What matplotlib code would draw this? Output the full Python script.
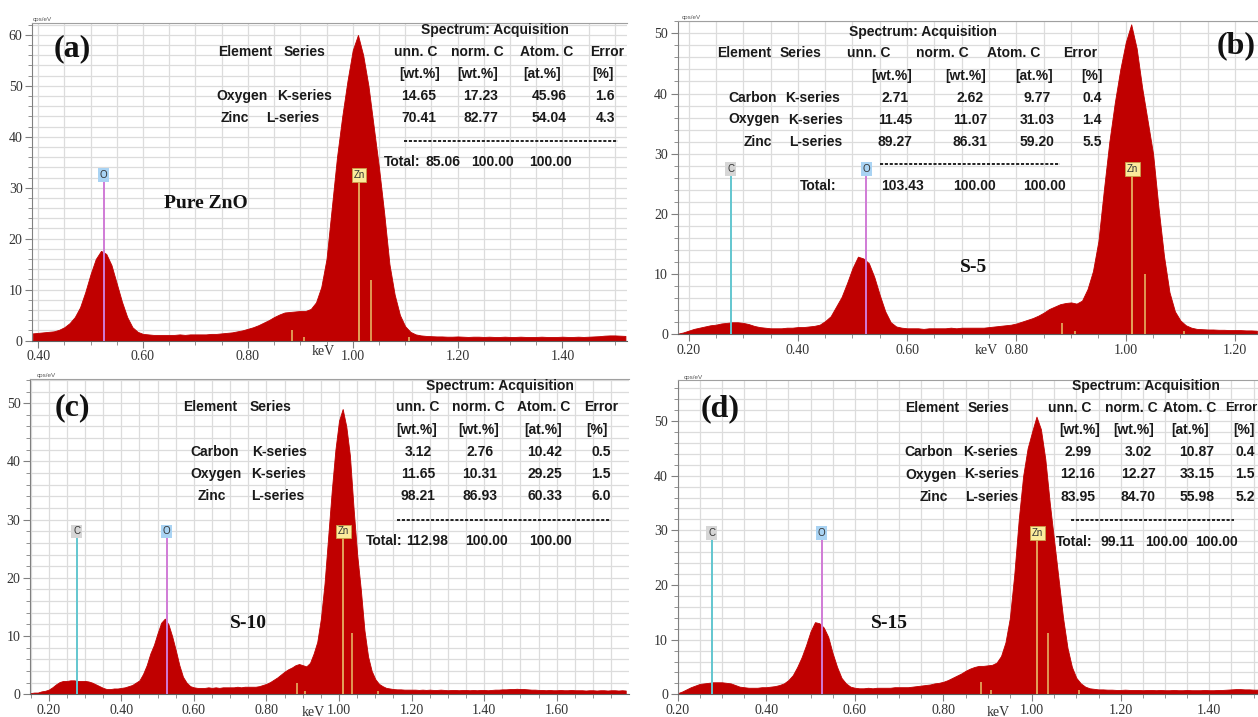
import numpy as np
import matplotlib
matplotlib.use('Agg')
import matplotlib.pyplot as plt
from matplotlib.ticker import MultipleLocator, FormatStrFormatter
from matplotlib.lines import Line2D

# spectra, counts in cps/eV on 0.01 keV bins
a_start = 0.39
a_counts = [1.4, 1.5, 1.6, 1.7, 1.8, 2.1, 2.6, 3.4, 4.6, 6.5,
            9.5, 13.0, 16.0, 17.6, 17.0, 14.8, 11.2, 7.6, 4.6, 2.6,
            1.7, 1.3, 1.2, 1.1, 1.1, 1.1, 1.1, 1.1, 1.2, 1.1,
            1.2, 1.2, 1.2, 1.2, 1.3, 1.3, 1.4, 1.5, 1.6, 1.8,
            2.0, 2.3, 2.6, 3.0, 3.5, 4.0, 4.6, 5.1, 5.5, 5.6,
            5.7, 5.8, 5.8, 6.2, 7.5, 10.5, 16.0, 26.0, 36.0, 44.0,
            51.0, 57.0, 60.0, 56.0, 50.0, 42.0, 34.0, 25.0, 15.0, 9.0,
            5.0, 2.8, 1.7, 1.2, 1.0, 0.9, 0.85, 0.8,
            0.8, 0.75, 0.75, 0.8, 0.75, 0.7, 0.75, 0.75, 0.7, 0.75,
            0.7, 0.7, 0.75, 0.7, 0.7, 0.75, 0.7, 0.7, 0.7, 0.75,
            0.7, 0.7, 0.7, 0.75, 0.7, 0.7, 0.75, 0.7, 0.75,
            0.8, 0.85, 0.95, 1.0, 1.0, 0.95, 0.9]

b_start = 0.18
b_counts = [0.1, 0.3, 0.6, 0.9, 1.1, 1.3, 1.5, 1.6, 1.8, 1.9,
            2.0, 2.0, 1.9, 1.7, 1.4, 1.2, 1.1, 1.0, 1.0, 1.0,
            1.1, 1.1, 1.2, 1.2, 1.3, 1.4, 1.6, 2.2, 3.0, 4.6,
            6.2, 8.5, 11.0, 12.9, 12.6, 11.8, 9.5, 6.5, 3.8, 2.0,
            1.3, 1.1, 1.0, 1.0, 1.0, 0.9, 1.0, 1.0, 1.0, 1.0,
            1.1, 1.0, 1.1, 1.1, 1.1, 1.1, 1.1, 1.2, 1.3, 1.4,
            1.5, 1.6, 1.8, 2.1, 2.4, 2.7, 3.1, 3.6, 4.2, 4.6,
            5.0, 5.2, 5.3, 5.1, 5.6, 7.5, 10.5, 15.5, 24.0, 32.0,
            38.5, 44.0, 48.5, 51.5, 47.5, 41.0, 35.5, 30.0, 21.0, 13.0,
            7.0, 3.8, 2.3, 1.5, 1.1, 0.9, 0.85, 0.8, 0.8, 0.75,
            0.75, 0.7, 0.7, 0.7, 0.65, 0.65, 0.6]

c_start = 0.15
c_counts = [0.2, 0.3, 0.3, 0.5, 0.6, 0.8, 1.2, 1.7, 2.1, 2.3,
            2.3, 2.4, 2.4, 2.3, 2.3, 2.3, 2.2, 2.0, 1.7, 1.4,
            1.1, 0.9, 0.9, 1.0, 1.0, 1.1, 1.2, 1.4, 1.6, 2.0,
            2.4, 3.5, 5.0, 7.0, 8.5, 10.5, 12.3, 13.0, 12.0, 10.0,
            7.6, 5.0, 3.0, 2.0, 1.4, 1.2, 1.1, 1.1, 1.1, 1.2,
            1.1, 1.2, 1.1, 1.2, 1.2, 1.2, 1.2, 1.3, 1.2, 1.3,
            1.3, 1.3, 1.3, 1.4, 1.6, 1.8, 2.1, 2.5, 2.9, 3.4,
            3.9, 4.3, 4.6, 5.0, 5.2, 5.0, 4.8, 5.4, 7.0, 9.0,
            13.0, 19.0, 27.0, 35.0, 42.0, 47.0, 49.0, 46.0, 41.0, 32.0,
            24.0, 18.0, 11.0, 6.5, 4.0, 2.6, 1.8, 1.4, 1.1, 1.0, 0.9,
            0.85, 0.85, 0.8, 0.8, 0.8, 0.8, 0.75, 0.8, 0.75, 0.8,
            0.75, 0.75, 0.8, 0.75, 0.7, 0.75, 0.75, 0.7, 0.75, 0.75,
            0.7, 0.75, 0.7, 0.75, 0.75, 0.7, 0.75, 0.8, 0.8, 0.85,
            0.85, 0.9, 0.9, 0.95, 0.9, 0.9, 0.85, 0.8, 0.8, 0.75,
            0.75, 0.7, 0.75, 0.7, 0.7, 0.75, 0.7, 0.7, 0.75, 0.7,
            0.7, 0.7, 0.65, 0.7, 0.7, 0.65, 0.7, 0.7, 0.65, 0.7,
            0.7, 0.65, 0.7, 0.65]

d_start = 0.20
d_counts = [0.2, 0.5, 0.9, 1.3, 1.6, 1.9, 2.0, 2.1, 2.2, 2.2,
            2.2, 2.1, 2.0, 1.7, 1.4, 1.3, 1.2, 1.2, 1.2, 1.3,
            1.3, 1.4, 1.5, 1.7, 2.0, 2.6, 3.5, 5.0, 6.8, 9.0,
            11.5, 13.2, 13.0, 12.2, 10.5, 7.5, 5.0, 3.0, 2.0, 1.4,
            1.2, 1.1, 1.1, 1.2, 1.1, 1.2, 1.2, 1.2, 1.2, 1.3,
            1.3, 1.3, 1.3, 1.4, 1.5, 1.6, 1.7, 1.8, 2.0, 2.1,
            2.3, 2.6, 3.0, 3.4, 3.8, 4.3, 4.7, 5.0, 5.2, 5.2,
            5.3, 5.4, 5.8, 7.0, 9.5, 14.0, 22.0, 32.0, 40.0, 45.0,
            48.0, 50.8, 48.5, 43.0, 35.0, 28.0, 21.0, 14.0, 8.5, 5.0,
            3.0, 2.0, 1.4, 1.1, 1.0, 0.9,
            0.9, 0.85, 0.85, 0.8, 0.8, 0.85, 0.8, 0.8, 0.8, 0.75,
            0.8, 0.8, 0.75, 0.8, 0.75, 0.75, 0.8, 0.75, 0.75, 0.8,
            0.75, 0.75, 0.75, 0.8, 0.75, 0.75, 0.8, 0.8, 0.85,
            0.9, 0.95, 0.95, 0.9, 0.9, 0.85, 0.85]

# element markers (keV) and Zn L satellite lines (keV, height)
line_keV = {'C': 0.277, 'O': 0.525, 'Zn': 1.012}
zn_minor_keV = [0.884, 0.907, 1.035, 1.107]
a_zn_minor = [2.1, 0.65, 11.9, 0.7]
b_zn_minor = [1.9, 0.55, 10.1, 0.55]
c_zn_minor = [1.9, 0.6, 10.5, 0.6]
d_zn_minor = [2.2, 0.7, 11.3, 0.8]

W, H = 1258, 717
RED = '#c00000'
SANS = ['Liberation Sans', 'DejaVu Sans']
SERIF = ['Liberation Serif', 'DejaVu Serif']
line_col = {'C': '#62c6cf', 'O': '#d07bd6', 'Zn': '#e3a35a'}
box_col = {'C': '#d6d6d6', 'O': '#a9d3f3', 'Zn': '#fbeb9c'}

fig = plt.figure(figsize=(W / 100, H / 100), dpi=100)


def put(x, y, s, size=10, weight='bold', family=SANS, ha='center', color='#1a1a1a'):
    fig.text(x / W, 1 - y / H, s, ha=ha, va='center', fontsize=size,
             fontweight=weight, family=family, color=color)


def spectrum(box, start, counts, xlim, ylim, elems, label_y, zn_minor):
    l, t, r, b = box
    ax = fig.add_axes([l / W, 1 - b / H, (r - l) / W, (b - t) / H])
    e = start + 0.01 * np.arange(len(counts))
    ax.fill_between(e, counts, color=RED, lw=0.6, edgecolor=RED, zorder=2)
    ax.set_xlim(xlim)
    ax.set_ylim(ylim)
    ax.xaxis.set_major_locator(MultipleLocator(0.2))
    ax.xaxis.set_minor_locator(MultipleLocator(0.05))
    ax.yaxis.set_major_locator(MultipleLocator(10))
    ax.yaxis.set_minor_locator(MultipleLocator(2))
    ax.xaxis.set_major_formatter(FormatStrFormatter('%.2f'))
    ax.grid(which='both', color='#dcdcdc', lw=0.9, zorder=0)
    ax.set_axisbelow(True)
    ax.tick_params(which='both', direction='out', color='#808080', labelcolor='#333333',
                   labelsize=10, pad=2)
    ax.tick_params(which='major', length=5)
    ax.tick_params(which='minor', length=3)
    for lab in ax.get_xticklabels() + ax.get_yticklabels():
        lab.set_family(SERIF)
    ax.spines['right'].set_visible(False)
    ax.spines['top'].set_color('#a0a0a0')
    ax.spines['left'].set_color('#808080')
    ax.spines['bottom'].set_color('#606060')
    for en, h in zip(zn_minor_keV, zn_minor):
        ax.vlines(en, 0, h, color=line_col['Zn'], lw=1.3, zorder=3)
    for el in elems:
        en = line_keV[el]
        ax.vlines(en, 0, label_y, color=line_col[el], lw=1.4, zorder=3)
        ax.text(en, label_y, el, ha='center', va='center', fontsize=7, family=SANS,
                color='#333333', zorder=4,
                bbox=dict(boxstyle='square,pad=0.18', fc=box_col[el],
                          ec='#c9a04a' if el == 'Zn' else 'none', lw=0.6))
    return ax


def dashes(x0, x1, y):
    fig.add_artist(Line2D([x0 / W, x1 / W], [1 - y / H, 1 - y / H], color='#222222',
                          lw=1.4, dashes=(1.6, 0.9)))


spectrum((32.3, 22.7, 627, 340.5), a_start, a_counts, (0.389, 1.523), (0, 62.4),
         ['O', 'Zn'], 32.5, a_zn_minor)
spectrum((677.6, 20.7, 1258, 334.3), b_start, b_counts, (0.180, 1.242), (0, 52.1),
         ['C', 'O', 'Zn'], 27.5, b_zn_minor)
spectrum((30.2, 379.3, 629, 694.3), c_start, c_counts, (0.149, 1.799), (0, 54.1),
         ['C', 'O', 'Zn'], 28.0, c_zn_minor)
spectrum((677.6, 380, 1258, 694.3), d_start, d_counts, (0.200, 1.510), (0, 57.5),
         ['C', 'O', 'Zn'], 29.5, d_zn_minor)

# small axis captions
for x, y in [(42, 19), (691, 17), (46, 376), (693, 377)]:
    put(x, y, 'cps/eV', size=4.5, weight='normal', color='#555555')
for x, y in [(323, 352), (986, 350), (313, 712), (998, 713)]:
    put(x, y, 'keV', size=10, weight='normal', family=SERIF, color='#333333')

# panel letters and sample names
for x, y, s in [(72, 49, '(a)'), (1236, 46, '(b)'), (72, 408, '(c)'), (720, 409, '(d)')]:
    put(x, y, s, size=23, family=SERIF, color='#111111')
for x, y, s in [(206, 204, 'Pure ZnO'), (974, 267, 'S-5'), (248, 623, 'S-10'), (889, 623, 'S-15')]:
    put(x, y, s, size=14, family=SERIF, color='#111111')

# composition tables
hdr = ['unn. C', 'norm. C', 'Atom. C', 'Error']
units = ['[wt.%]', '[wt.%]', '[at.%]', '[%]']

# (a)
put(495, 30, 'Spectrum: Acquisition')
put(245, 52, 'Element'); put(305, 52, 'Series')
for x, s in zip([416, 477, 547, 607], hdr):
    put(x, 52, s)
for x, s in zip([420, 478, 542, 603], units):
    put(x, 74, s)
a_rows = [('Oxygen', 'K-series', '14.65', '17.23', '45.96', '1.6'),
          ('Zinc', 'L-series', '70.41', '82.77', '54.04', '4.3')]
for (nm, sr, *vals), y, nx, sx in zip(a_rows, [96, 118], [242, 235], [305, 293]):
    put(nx, y, nm); put(sx, y, sr)
    for x, v in zip([419, 481, 549, 605], vals):
        put(x, y, v)
dashes(404, 618, 141)
put(384, 162, 'Total:', ha='left'); put(443, 162, '85.06')
put(492, 162, '100.00'); put(550, 162, '100.00')

# (b)
put(923, 32, 'Spectrum: Acquisition')
put(744, 53, 'Element'); put(801, 53, 'Series')
for x, s in zip([869, 942, 1014, 1080], hdr):
    put(x, 53, s)
for x, s in zip([892, 966, 1034, 1092], units):
    put(x, 76, s)
b_rows = [('Carbon', 'K-series', '2.71', '2.62', '9.77', '0.4'),
          ('Oxygen', 'K-series', '11.45', '11.07', '31.03', '1.4'),
          ('Zinc', 'L-series', '89.27', '86.31', '59.20', '5.5')]
for (nm, sr, *vals), y, nx, sx in zip(b_rows, [97.5, 119.5, 141.5], [753, 754, 758], [813, 816, 816]):
    put(nx, y, nm); put(sx, y, sr)
    for x, v in zip([895, 970, 1037, 1092], vals):
        put(x, y, v)
dashes(880, 1060, 164)
put(818, 186, 'Total:'); put(903, 186, '103.43')
put(974, 186, '100.00'); put(1045, 186, '100.00')

# (c)
put(500, 386, 'Spectrum: Acquisition')
put(210, 407, 'Element'); put(271, 407, 'Series')
for x, s in zip([418, 478, 544, 601], hdr):
    put(x, 407, s)
for x, s in zip([417, 479, 543, 597], units):
    put(x, 430, s)
c_rows = [('Carbon', 'K-series', '3.12', '2.76', '10.42', '0.5'),
          ('Oxygen', 'K-series', '11.65', '10.31', '29.25', '1.5'),
          ('Zinc', 'L-series', '98.21', '86.93', '60.33', '6.0')]
for (nm, sr, *vals), y, nx, sx in zip(c_rows, [452, 474, 496], [215, 216, 212], [280, 279, 278]):
    put(nx, y, nm); put(sx, y, sr)
    for x, v in zip([418, 480, 545, 601], vals):
        put(x, y, v)
dashes(397, 611, 519.5)
put(366, 541, 'Total:', ha='left'); put(427, 541, '112.98')
put(487, 541, '100.00'); put(550, 541, '100.00')

# (d)
put(1146, 386, 'Spectrum: Acquisition')
put(932, 408, 'Element'); put(989, 408, 'Series')
for x, s in zip([1070, 1131, 1190], hdr[:3]):
    put(x, 408, s)
put(1257, 408, hdr[3], ha='right', size=9.5)
for x, s in zip([1080, 1134, 1190, 1244], units):
    put(x, 430, s)
d_rows = [('Carbon', 'K-series', '2.99', '3.02', '10.87', '0.4'),
          ('Oxygen', 'K-series', '12.16', '12.27', '33.15', '1.5'),
          ('Zinc', 'L-series', '83.95', '84.70', '55.98', '5.2')]
for (nm, sr, *vals), y, nx, sx in zip(d_rows, [452, 474.5, 497], [929, 931, 934], [991, 992, 992]):
    put(nx, y, nm); put(sx, y, sr)
    for x, v in zip([1078, 1138, 1197, 1245], vals):
        put(x, y, v)
dashes(1071, 1234, 520)
put(1074, 542, 'Total:'); put(1118, 542, '99.11')
put(1167, 542, '100.00'); put(1217, 542, '100.00')

fig.savefig('out.png', dpi=100)
